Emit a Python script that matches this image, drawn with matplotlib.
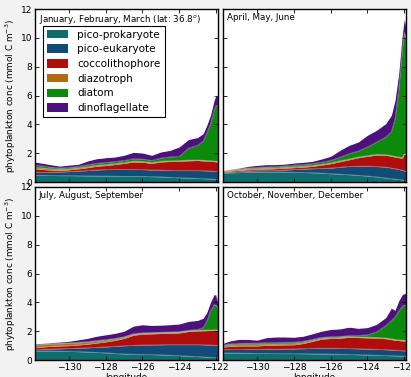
import matplotlib
matplotlib.use('Agg')
import matplotlib.pyplot as plt
import numpy as np

# longitude grid (deg E)
lon = [-131.85, -131.5, -131.0, -130.5, -130.0, -129.5, -129.0, -128.5, -128.0,
       -127.5, -127.0, -126.5, -126.0, -125.5, -125.0, -124.5, -124.0, -123.5,
       -123.0, -122.7, -122.5, -122.3, -122.1, -122.0, -121.9]

groups = ['pico-prokaryote', 'pico-eukaryote', 'coccolithophore',
          'diazotroph', 'diatom', 'dinoflagellate']
colors = ['#0f6d6d', '#134b78', '#b00d0d', '#b36a10', '#0b8a0b', '#4c117b']

seasons = ['January, February, March (lat: 36.8$^{o}$)', 'April, May, June',
           'July, August, September', 'October, November, December']

# cumulative concentration (top of each stacked group), mmol C m-3
jfm_prok = [0.47, 0.47, 0.46, 0.45, 0.45, 0.44, 0.43, 0.42, 0.42, 0.41, 0.40, 0.40, 0.40,
            0.38, 0.36, 0.33, 0.30, 0.28, 0.26, 0.24, 0.23, 0.22, 0.20, 0.19, 0.18]
jfm_euk = [0.68, 0.67, 0.68, 0.70, 0.73, 0.76, 0.80, 0.84, 0.87, 0.88, 0.88, 0.88, 0.87,
           0.84, 0.83, 0.81, 0.80, 0.80, 0.80, 0.79, 0.78, 0.77, 0.75, 0.74, 0.73]
jfm_cocco = [0.93, 0.88, 0.84, 0.82, 0.85, 0.92, 1.00, 1.10, 1.15, 1.22, 1.30, 1.40, 1.38,
             1.30, 1.40, 1.43, 1.45, 1.48, 1.50, 1.47, 1.46, 1.45, 1.42, 1.41, 1.40]
jfm_diaz = [1.03, 0.98, 0.93, 0.90, 0.93, 1.00, 1.08, 1.17, 1.22, 1.29, 1.36, 1.46, 1.44,
            1.36, 1.45, 1.48, 1.50, 1.53, 1.54, 1.51, 1.50, 1.49, 1.46, 1.45, 1.44]
jfm_diat = [1.18, 1.12, 1.04, 0.98, 1.02, 1.08, 1.20, 1.30, 1.36, 1.42, 1.50, 1.62, 1.60,
            1.50, 1.66, 1.75, 1.78, 2.35, 2.55, 2.85, 3.40, 4.05, 5.00, 5.30, 5.30]
jfm_dino = [1.39, 1.32, 1.21, 1.11, 1.18, 1.23, 1.46, 1.62, 1.69, 1.74, 1.86, 2.06, 2.02,
            1.86, 2.09, 2.20, 2.44, 2.95, 3.09, 3.36, 3.94, 4.64, 5.68, 6.03, 5.92]

amj_prok = [0.62, 0.64, 0.66, 0.68, 0.69, 0.70, 0.70, 0.69, 0.68, 0.67, 0.65, 0.62, 0.58,
            0.55, 0.51, 0.47, 0.42, 0.36, 0.28, 0.24, 0.21, 0.18, 0.15, 0.13, 0.12]
amj_euk = [0.67, 0.71, 0.74, 0.77, 0.79, 0.80, 0.81, 0.84, 0.87, 0.90, 0.93, 0.95, 0.97,
           1.03, 1.09, 1.10, 1.11, 1.08, 1.04, 0.98, 0.93, 0.88, 0.82, 0.78, 0.76]
amj_cocco = [0.72, 0.77, 0.82, 0.86, 0.89, 0.91, 0.93, 0.97, 1.00, 1.04, 1.09, 1.18, 1.28,
             1.42, 1.55, 1.70, 1.79, 1.88, 1.86, 1.80, 1.74, 1.70, 1.65, 1.97, 1.90]
amj_diaz = [0.78, 0.83, 0.89, 0.93, 0.96, 0.98, 1.00, 1.04, 1.07, 1.11, 1.16, 1.24, 1.34,
            1.48, 1.60, 1.74, 1.84, 1.92, 1.90, 1.84, 1.78, 1.74, 1.69, 2.01, 1.94]
amj_diat = [0.79, 0.85, 0.92, 0.98, 1.02, 1.05, 1.08, 1.12, 1.17, 1.22, 1.28, 1.38, 1.50,
            1.72, 1.97, 2.15, 2.44, 2.78, 3.13, 3.50, 4.40, 6.40, 9.30, 10.40, 9.90]
amj_dino = [0.81, 0.88, 0.97, 1.09, 1.16, 1.21, 1.21, 1.25, 1.32, 1.37, 1.44, 1.60, 1.79,
            2.20, 2.55, 2.78, 3.25, 3.60, 4.06, 4.64, 5.68, 7.54, 10.30, 11.30, 10.80]

jas_prok = [0.63, 0.63, 0.62, 0.61, 0.60, 0.58, 0.56, 0.53, 0.50, 0.46, 0.42, 0.40, 0.39,
            0.38, 0.36, 0.33, 0.30, 0.27, 0.24, 0.22, 0.20, 0.19, 0.18, 0.17, 0.16]
jas_euk = [0.72, 0.74, 0.76, 0.78, 0.80, 0.82, 0.85, 0.88, 0.91, 0.95, 0.99, 1.02, 1.04,
           1.05, 1.06, 1.07, 1.07, 1.07, 1.07, 1.06, 1.05, 1.04, 1.03, 1.02, 1.02]
jas_cocco = [0.86, 0.90, 0.95, 0.98, 1.00, 1.05, 1.10, 1.18, 1.26, 1.36, 1.50, 1.72, 1.80,
             1.82, 1.84, 1.86, 1.88, 1.98, 2.02, 2.03, 2.04, 2.05, 2.05, 2.06, 2.06]
jas_diaz = [1.02, 1.06, 1.11, 1.13, 1.15, 1.19, 1.23, 1.30, 1.36, 1.45, 1.58, 1.78, 1.85,
            1.87, 1.89, 1.91, 1.93, 2.02, 2.06, 2.07, 2.08, 2.09, 2.09, 2.10, 2.10]
jas_diat = [1.05, 1.09, 1.14, 1.17, 1.19, 1.23, 1.27, 1.35, 1.42, 1.50, 1.62, 1.82, 1.89,
            1.91, 1.93, 1.95, 1.97, 2.06, 2.12, 2.25, 2.70, 3.40, 3.85, 3.80, 3.60]
jas_dino = [1.12, 1.15, 1.20, 1.25, 1.30, 1.40, 1.50, 1.65, 1.75, 1.85, 2.00, 2.35, 2.45,
            2.40, 2.42, 2.45, 2.50, 2.68, 2.75, 2.90, 3.30, 4.00, 4.55, 4.50, 4.00]

ond_prok = [0.50, 0.49, 0.48, 0.47, 0.46, 0.46, 0.45, 0.45, 0.45, 0.44, 0.43, 0.42, 0.41,
            0.40, 0.39, 0.37, 0.35, 0.33, 0.31, 0.30, 0.29, 0.28, 0.27, 0.27, 0.26]
ond_euk = [0.72, 0.73, 0.73, 0.74, 0.74, 0.75, 0.75, 0.76, 0.77, 0.79, 0.81, 0.82, 0.82,
           0.81, 0.80, 0.78, 0.76, 0.74, 0.72, 0.70, 0.68, 0.66, 0.65, 0.64, 0.63]
ond_cocco = [0.90, 0.95, 0.98, 0.98, 0.98, 1.02, 1.04, 1.05, 1.06, 1.15, 1.30, 1.45, 1.50,
             1.52, 1.58, 1.56, 1.54, 1.52, 1.48, 1.42, 1.38, 1.35, 1.33, 1.32, 1.32]
ond_diaz = [1.00, 1.05, 1.08, 1.08, 1.08, 1.12, 1.13, 1.14, 1.15, 1.23, 1.37, 1.51, 1.56,
            1.58, 1.63, 1.61, 1.59, 1.57, 1.53, 1.47, 1.43, 1.40, 1.38, 1.37, 1.37]
ond_diat = [1.06, 1.12, 1.16, 1.17, 1.17, 1.21, 1.22, 1.23, 1.24, 1.30, 1.43, 1.57, 1.62,
            1.64, 1.69, 1.70, 1.75, 1.95, 2.40, 2.75, 3.00, 3.40, 3.75, 3.80, 3.80]
ond_dino = [1.16, 1.32, 1.43, 1.43, 1.38, 1.55, 1.60, 1.60, 1.58, 1.65, 1.82, 2.00, 2.12,
            2.16, 2.28, 2.20, 2.25, 2.48, 2.95, 3.60, 3.45, 4.10, 4.55, 4.60, 4.60]

tops = [
    [jfm_prok, jfm_euk, jfm_cocco, jfm_diaz, jfm_diat, jfm_dino],
    [amj_prok, amj_euk, amj_cocco, amj_diaz, amj_diat, amj_dino],
    [jas_prok, jas_euk, jas_cocco, jas_diaz, jas_diat, jas_dino],
    [ond_prok, ond_euk, ond_cocco, ond_diaz, ond_diat, ond_dino],
]

fig = plt.figure(figsize=(4.11, 3.77), dpi=100, facecolor='#f2f2f2')

# panel positions [left, bottom, width, height]
pos = [[0.085, 0.517, 0.445, 0.459], [0.543, 0.517, 0.445, 0.459],
       [0.085, 0.045, 0.445, 0.459], [0.543, 0.045, 0.445, 0.459]]

for i in range(4):
    ax = fig.add_axes(pos[i])
    x = np.array(lon)
    lower = np.zeros(len(lon))
    for j in range(6):
        upper = np.array(tops[i][j])
        ax.fill_between(x, lower, upper, color=colors[j], lw=0, label=groups[j])
        ax.plot(x, upper, color='white', lw=0.5, alpha=0.35)
        lower = upper

    ax.set_xlim(lon[0], lon[-1])
    ax.set_ylim(0, 12)
    ax.set_xticks([-130, -128, -126, -124, -122])
    ax.set_yticks(range(0, 13, 2))
    ax.tick_params(direction='in', top=True, right=True, length=3, width=0.6,
                   labelsize=6.5, pad=2)
    for s in ax.spines.values():
        s.set_linewidth(1.0)
    ax.text(0.02, 0.975, seasons[i], transform=ax.transAxes, va='top', ha='left',
            fontsize=6.3)

    if i % 2 == 0:
        ax.set_ylabel('phytoplankton conc (mmol C m$^{-3}$)', fontsize=6.4, labelpad=2)
    else:
        ax.set_yticklabels([])
    if i < 2:
        ax.set_xticklabels([])
    else:
        ax.set_xlabel('longitude', fontsize=6.4, labelpad=1)

    if i == 0:
        leg = ax.legend(loc='upper left', bbox_to_anchor=(0.015, 0.935), fontsize=7.5,
                        fancybox=False, framealpha=1, edgecolor='black',
                        handlelength=2.0, handleheight=0.9, labelspacing=0.45,
                        borderpad=0.4, handletextpad=0.9)
        leg.get_frame().set_linewidth(0.8)

fig.savefig('out.png', dpi=100, facecolor=fig.get_facecolor())
